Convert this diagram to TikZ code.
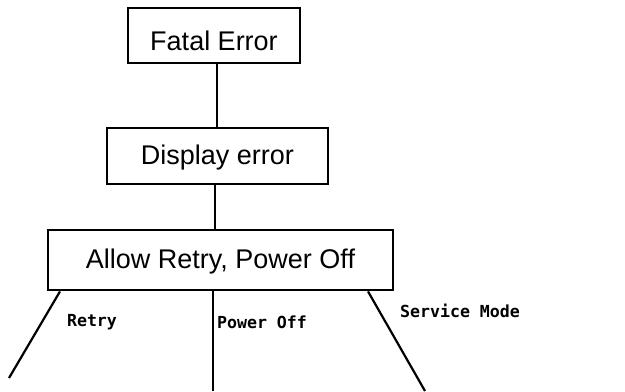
\documentclass[tikz,border=0pt]{standalone}
\usepackage{fontspec}
\setmainfont{Liberation Sans}
\newfontfamily\labelfont{DejaVu Sans Mono}
\begin{document}
\begin{tikzpicture}[x=0.5pt,y=-0.5pt,
  box/.style={draw=black,line width=1.4pt,inner ysep=0pt,inner xsep=0pt,
    font=\fontsize{13.5}{16}\selectfont},
  link/.style={draw=black,line width=1.1pt},
  branch/.style={font=\labelfont\bfseries\fontsize{8.3}{10}\selectfont,inner sep=0pt}]
  \useasboundingbox (0,0) rectangle (625,391);

  % boxes
  \node[box,minimum width=86pt,text height=21pt,text depth=6.5pt] (fatal) at (214,35.5) {Fatal Error};
  \node[box,minimum width=110.5pt,text height=18pt,text depth=10pt] (display) at (217.5,156) {Display error\hspace{8.5pt}};
  \node[box,minimum width=172.5pt,text height=19pt,text depth=11pt] (allow) at (220.5,260) {Allow Retry, Power Off};

  % vertical links between boxes
  \coordinate (c1) at (217,0);
  \coordinate (c2) at (215,0);
  \draw[link] (fatal.south -| c1) -- (display.north -| c1);
  \draw[link] (display.south -| c2) -- (allow.north -| c2);

  % branches out of the last box
  \coordinate (r0) at (60,0);
  \coordinate (p0) at (213,0);
  \coordinate (s0) at (368,0);
  \coordinate (rend) at (9,378);
  \coordinate (pend) at (213,391);
  \coordinate (send) at (425,391);
  \draw[link] (allow.south -| r0) -- (rend);
  \draw[link] (allow.south -| p0) -- (pend);
  \draw[link] (allow.south -| s0) -- (send);

  % branch labels
  \node[branch] (lretry) at (92,322) {Retry};
  \node[branch] (lpower) at (262,322) {Power Off};
  \node[branch] (lservice) at (460,311) {Service Mode};
\end{tikzpicture}
\end{document}
